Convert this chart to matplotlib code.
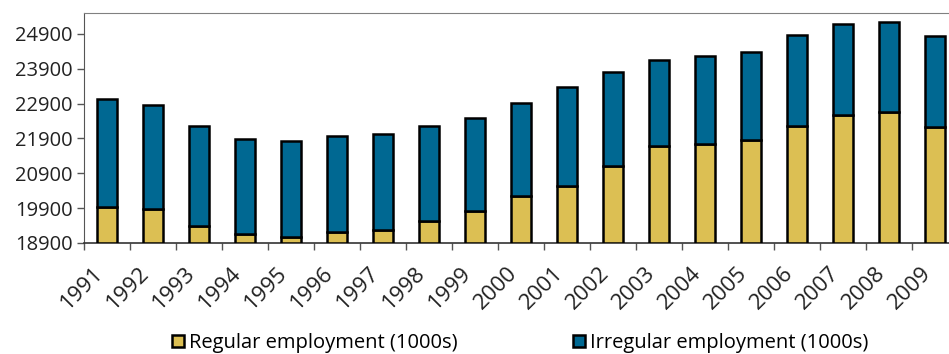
import numpy as np
import matplotlib
matplotlib.use('Agg')
import matplotlib.pyplot as plt
import matplotlib.patches as patches
import matplotlib.transforms as mtransforms

plt.rcParams['font.family'] = ['Open Sans', 'DejaVu Sans']

years = [str(y) for y in range(1991, 2010)]
regular = [19934, 19888, 19388, 19150, 19064, 19216, 19285, 19543, 19819, 20241,
           20548, 21122, 21685, 21742, 21849, 22251, 22586, 22661, 22230]
total = [23026, 22862, 22251, 21897, 21840, 21963, 22029, 22251, 22489, 22920,
         23390, 23801, 24145, 24252, 24384, 24872, 25179, 25245, 24835]
irregular = [t - r for t, r in zip(total, regular)]

base = 18900
yellow = '#dcbf53'
blue = '#006892'
fs = 14.5

fig = plt.figure(figsize=(9.49, 3.54), dpi=100)
ax = fig.add_axes([84 / 949, 1 - 243 / 354, 874 / 949, 230 / 354])

x = np.arange(len(years))
w = 0.42
reg_h = [r - base for r in regular]
ax.bar(x, reg_h, w, bottom=base, color=yellow, edgecolor='black', linewidth=1.8, zorder=3)
ax.bar(x, irregular, w, bottom=regular, color=blue, edgecolor='black', linewidth=1.8, zorder=3)

ax.set_xlim(-0.5, len(years) - 0.5)
ax.set_ylim(base, 25500)
ax.set_yticks(np.arange(18900, 25000, 1000))
ax.tick_params(axis='y', labelsize=fs, length=5, width=1, colors='#555555', labelcolor='#222222', pad=3)

# category ticks sit between bars, labels centred under bars
ax.set_xticks(np.arange(-0.5, len(years), 1.0))
ax.set_xticklabels([])
ax.set_xticks(x, minor=True)
ax.set_xticklabels(years, minor=True, rotation=45, ha='right', va='top',
                   rotation_mode='anchor', fontsize=16, color='#222222')
ax.tick_params(axis='x', which='major', length=5, width=1, colors='#555555')
ax.tick_params(axis='x', which='minor', length=0, pad=14)
shift = mtransforms.ScaledTranslation(-0.14, 0, fig.dpi_scale_trans)
for lab in ax.get_xticklabels(minor=True):
    lab.set_transform(lab.get_transform() + shift)

ax.spines['right'].set_visible(False)
ax.spines['top'].set_color('#808080')
ax.spines['left'].set_color('#555555')
ax.spines['bottom'].set_color('#333333')
ax.spines['bottom'].set_linewidth(1.2)

handles = [patches.Patch(facecolor=yellow, edgecolor='black', linewidth=1.8),
           patches.Patch(facecolor=blue, edgecolor='black', linewidth=1.8)]
fig.legend(handles, ['Regular employment (1000s)', 'Irregular employment (1000s)'],
           loc='center', bbox_to_anchor=(520 / 949, 1 - 343 / 354), ncol=2, frameon=False,
           fontsize=fs, handlelength=0.6, handleheight=0.6, handletextpad=0.25,
           columnspacing=5.7, borderpad=0)

fig.savefig('out.png', dpi=100)
